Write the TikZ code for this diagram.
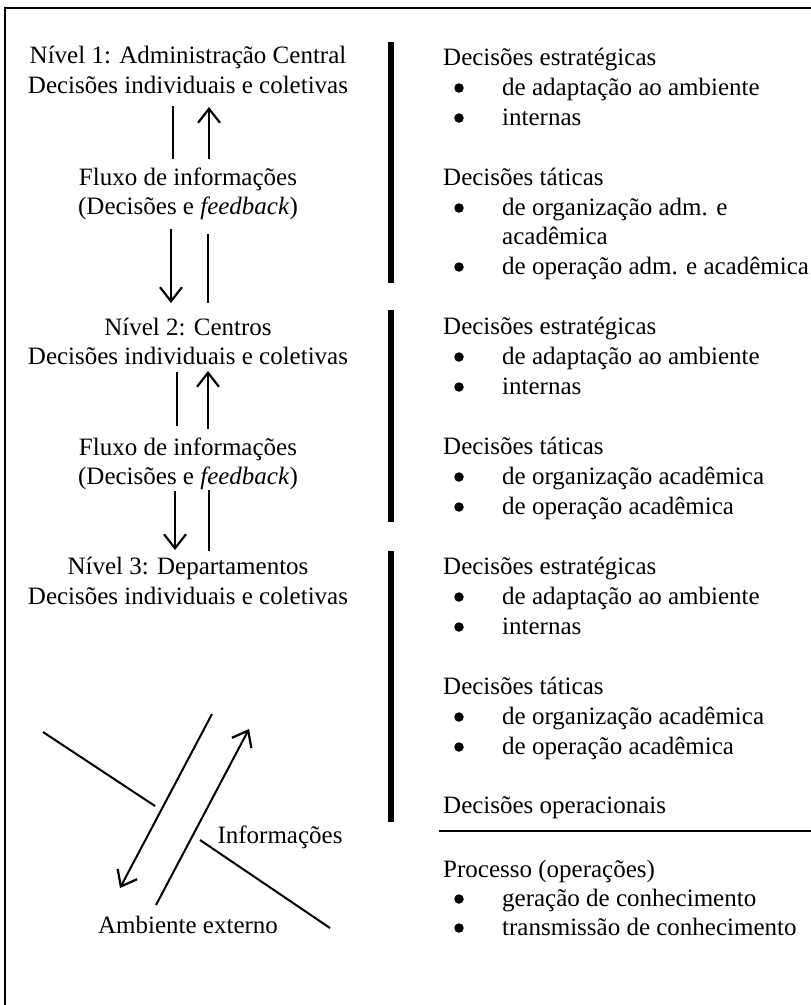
\documentclass[tikz,border=0pt]{standalone}
\usepackage{fontspec}
\setmainfont{Liberation Serif}
\usetikzlibrary{arrows.meta}
\begin{document}
\begin{tikzpicture}[x=1pt,y=-1pt,
  txt/.style={inner sep=0pt,anchor=base,font=\fontsize{25}{30}\selectfont},
  head/.style={txt,anchor=base west},
  item/.style={txt,anchor=base west},
  dot/.style={circle,fill=black,inner sep=0pt,minimum size=9.5pt},
  flow/.style={line width=2pt,-{Straight Barb[length=14pt,width=22pt,line width=2.2pt]}},
  plain/.style={line width=2pt},
  bar/.style={line width=6pt},
]
\useasboundingbox (0,0) rectangle (811,1005);

% outer frame (left and top edges)
\draw[line width=1.5pt] (5,1010) -- (5,8) -- (816,8);

% ---------- left column: levels and information flow ----------
\node[txt] (n1a) at (188,63)  {Nível 1: Administração Central};
\node[txt] (n1b) at (188,93)  {Decisões individuais e coletivas};
\node[txt] (f1a) at (188,185) {Fluxo de informações};
\node[txt] (f1b) at (188,214) {(Decisões e \textit{feedback})};
\node[txt] (n2a) at (188,335) {Nível 2: Centros};
\node[txt] (n2b) at (188,364) {Decisões individuais e coletivas};
\node[txt] (f2a) at (188,455) {Fluxo de informações};
\node[txt] (f2b) at (188,484) {(Decisões e \textit{feedback})};
\node[txt] (n3a) at (188,574) {Nível 3: Departamentos};
\node[txt] (n3b) at (188,604) {Decisões individuais e coletivas};

% flow between level 1 and level 2
\coordinate (a1s) at (173,106); \coordinate (a1e) at (173,159);
\coordinate (a2s) at (209,159); \coordinate (a2e) at (209,107);
\coordinate (a3s) at (171,229); \coordinate (a3e) at (171,303);
\coordinate (a4s) at (208,234); \coordinate (a4e) at (208,303);
\draw[plain] (a1s) -- (a1e);
\draw[flow]  (a2s) -- (a2e);
\draw[flow]  (a3s) -- (a3e);
\draw[plain] (a4s) -- (a4e);

% flow between level 2 and level 3
\coordinate (b1s) at (177,372); \coordinate (b1e) at (177,426);
\coordinate (b2s) at (208,429); \coordinate (b2e) at (208,371);
\coordinate (b3s) at (175,491); \coordinate (b3e) at (175,550);
\coordinate (b4s) at (209,490); \coordinate (b4e) at (209,551);
\draw[plain] (b1s) -- (b1e);
\draw[flow]  (b2s) -- (b2e);
\draw[flow]  (b3s) -- (b3e);
\draw[plain] (b4s) -- (b4e);

% ---------- external environment ----------
\node[txt] (info) at (280,843) {Informações};
\node[txt] (amb)  at (188,933) {Ambiente externo};
\coordinate (e1s) at (43,732);  \coordinate (e1e) at (155,806);
\coordinate (e2s) at (200,840); \coordinate (e2e) at (330,928);
\coordinate (e3s) at (212,714); \coordinate (e3e) at (120,888);
\coordinate (e4s) at (156,905); \coordinate (e4e) at (249,729);
\draw[plain] (e1s) -- (e1e);
\draw[plain] (e2s) -- (e2e);
\draw[flow]  (e3s) -- (e3e);
\draw[flow]  (e4s) -- (e4e);

% ---------- separating bars ----------
\coordinate (s1t) at (391,42);  \coordinate (s1b) at (391,283);
\coordinate (s2t) at (391,310); \coordinate (s2b) at (391,522);
\coordinate (s3t) at (391,551); \coordinate (s3b) at (391,822);
\draw[bar] (s1t) -- (s1b);
\draw[bar] (s2t) -- (s2b);
\draw[bar] (s3t) -- (s3b);

% ---------- right column: decisions per level ----------
% level 1
\node[head] (d1s) at (443,65)  {Decisões estratégicas};
\node[dot] (k1) at (459,88)  {}; \node[item] (d1s1) at (502,95)  {de adaptação ao ambiente};
\node[dot] (k2) at (459,118) {}; \node[item] (d1s2) at (502,125) {internas};
\node[head] (d1t) at (443,185) {Decisões táticas};
\node[dot] (k3) at (459,208) {}; \node[item] (d1t1) at (502,215) {de organização adm. e};
\node[item] (d1t1b) at (502,244) {acadêmica};
\node[dot] (k4) at (459,267) {}; \node[item] (d1t2) at (502,274) {de operação adm. e acadêmica};

% level 2
\node[head] (d2s) at (443,334) {Decisões estratégicas};
\node[dot] (k5) at (459,357) {}; \node[item] (d2s1) at (502,364) {de adaptação ao ambiente};
\node[dot] (k6) at (459,387) {}; \node[item] (d2s2) at (502,394) {internas};
\node[head] (d2t) at (443,454) {Decisões táticas};
\node[dot] (k7) at (459,477) {}; \node[item] (d2t1) at (502,484) {de organização acadêmica};
\node[dot] (k8) at (459,507) {}; \node[item] (d2t2) at (502,514) {de operação acadêmica};

% level 3
\node[head] (d3s) at (443,574) {Decisões estratégicas};
\node[dot] (k9)  at (459,597) {}; \node[item] (d3s1) at (502,604) {de adaptação ao ambiente};
\node[dot] (k10) at (459,627) {}; \node[item] (d3s2) at (502,634) {internas};
\node[head] (d3t) at (443,694) {Decisões táticas};
\node[dot] (k11) at (459,717) {}; \node[item] (d3t1) at (502,724) {de organização acadêmica};
\node[dot] (k12) at (459,747) {}; \node[item] (d3t2) at (502,754) {de operação acadêmica};

% operational decisions and process
\node[head] (dop) at (443,813) {Decisões operacionais};
\coordinate (hl) at (439,831); \coordinate (hr) at (816,831);
\draw[plain] (hl) -- (hr);
\node[head] (proc) at (443,877) {Processo (operações)};
\node[dot] (k13) at (459,899) {}; \node[item] (p1) at (502,906) {geração de conhecimento};
\node[dot] (k14) at (459,928) {}; \node[item] (p2) at (502,935) {transmissão de conhecimento};
\end{tikzpicture}
\end{document}
